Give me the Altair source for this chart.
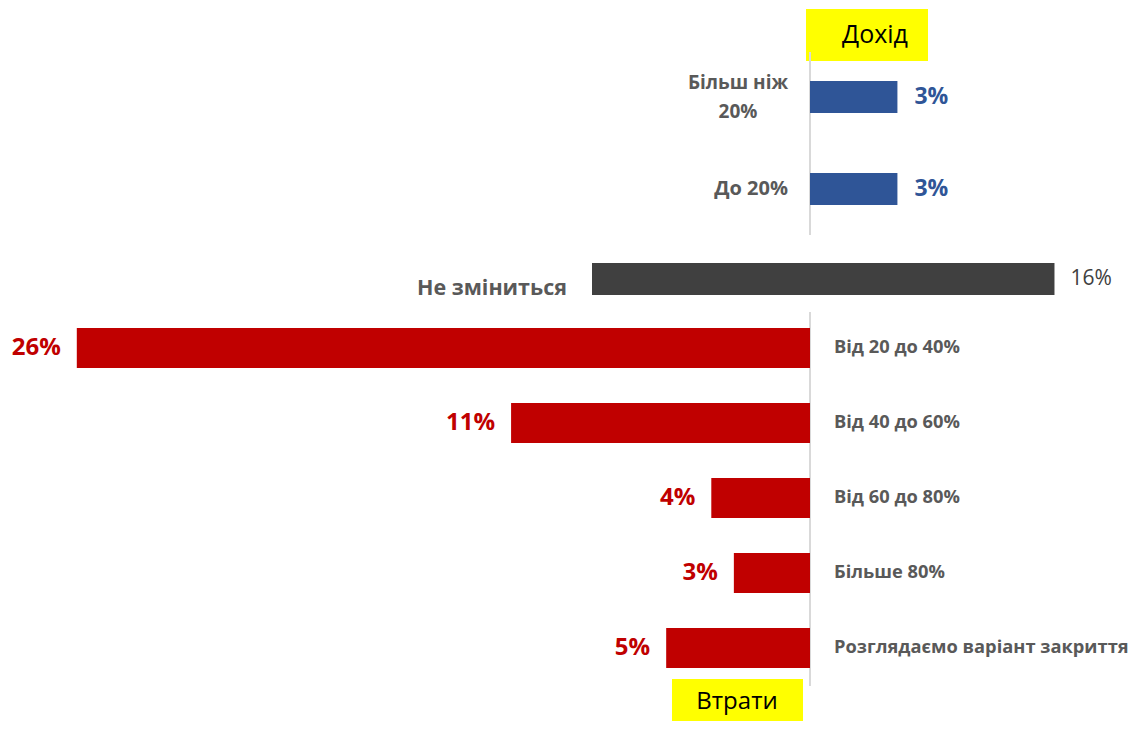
import altair as alt
import pandas as pd

FONT = "Open Sans"

income_cats = ["Більш ніж\n20%", "До 20%"]
income_vals = [3.1, 3.1]

nochange_cat = ["Не зміниться"]
nochange_vals = [16.4]

loss_cats = ["Від 20 до 40%", "Від 40 до 60%", "Від 60 до 80%", "Більше 80%",
             "Розглядаємо варіант закриття"]
loss_vals = [26.0, 10.6, 3.5, 2.7, 5.1]

W = 1110
PX = 28.2  # pixels per percent
ZERO = 802  # zero line in panel coords
xdom = [-ZERO / PX, (W - ZERO) / PX]

LABEL_GREY = "#595959"
RED = "#C00000"
BLUE = "#2F5597"
DARK = "#404040"
RULE = "#D9D9D9"
YELLOW = "#FFFF00"

one = alt.Data(values=[{"a": 1}])


def xs(dom):
    return alt.Scale(domain=dom, nice=False, zero=False)


# ---------------- Panel A: income ----------------
inc_df = pd.DataFrame({"cat": income_cats, "v": income_vals})
xA = alt.X("v:Q", scale=xs(xdom), axis=None)
yA = alt.Y("cat:N", scale=alt.Scale(domain=income_cats, range=[43, 227],
                                    paddingInner=0, paddingOuter=0), axis=None)
baseA = alt.Chart(inc_df).transform_calculate(
    zero="0", lbl="format(datum.v, '.0f') + '%'",
    multi="indexof(datum.cat, '\\n') >= 0")

boxA = alt.Chart(one).mark_rect(color=YELLOW).encode(
    x=alt.value(798), x2=alt.value(920), y=alt.value(1), y2=alt.value(53))
boxAtxt = alt.Chart(one).mark_text(text="Дохід", font=FONT, fontSize=25,
                                   color="#000000", baseline="middle").encode(
    x=alt.value(867), y=alt.value(27))
ruleA = alt.Chart(one).mark_rule(color=RULE, strokeWidth=2).encode(
    x=alt.X("z:Q", scale=xs(xdom), axis=None),
    y=alt.value(44), y2=alt.value(227)).transform_calculate(z="0")
barsA = baseA.mark_bar(height=32, color=BLUE).encode(x=xA, x2="zero:Q", y=yA)
valA = baseA.mark_text(align="left", baseline="middle", dx=17, font=FONT,
                       fontSize=23, fontWeight="bold", color=BLUE).encode(
    x=xA, y=yA, text="lbl:N")
catA1 = baseA.transform_filter("!datum.multi").mark_text(
    align="right", baseline="middle", dx=-22, font=FONT, fontSize=20,
    fontWeight="bold", color=LABEL_GREY).encode(
    x=alt.X("zero:Q", scale=xs(xdom), axis=None), y=yA, text="cat:N")
catA2 = baseA.transform_filter("datum.multi").mark_text(
    align="center", baseline="middle", dx=-72, dy=-14.5, font=FONT, fontSize=19,
    fontWeight="bold", color=LABEL_GREY, lineBreak="\n", lineHeight=29).encode(
    x=alt.X("zero:Q", scale=xs(xdom), axis=None), y=yA, text="cat:N")
panelA = alt.layer(boxA, boxAtxt, ruleA, barsA, valA, catA1, catA2).properties(
    width=W, height=232)

# ---------------- Panel B: no change ----------------
nc_df = pd.DataFrame({"cat": nochange_cat, "v": nochange_vals})
ZB = 584
xdomB = [-ZB / PX, (W - ZB) / PX]
xB = alt.X("v:Q", scale=xs(xdomB), axis=None)
yB = alt.Y("cat:N", scale=alt.Scale(domain=nochange_cat, range=[19, 59],
                                    paddingInner=0, paddingOuter=0), axis=None)
baseB = alt.Chart(nc_df).transform_calculate(
    zero="0", lbl="format(datum.v, '.0f') + '%'")
barsB = baseB.mark_bar(height=32, color=DARK).encode(x=xB, x2="zero:Q", y=yB)
valB = baseB.mark_text(align="left", baseline="middle", dx=16, font=FONT,
                       fontSize=21, color=DARK).encode(x=xB, y=yB, text="lbl:N")
catB = baseB.mark_text(align="right", baseline="middle", dx=-25, dy=10, font=FONT,
                       fontSize=21.5, fontWeight="bold", color=LABEL_GREY).encode(
    x=alt.X("zero:Q", scale=xs(xdomB), axis=None), y=yB, text="cat:N")
panelB = alt.layer(barsB, valB, catB).properties(width=W, height=65)

# ---------------- Panel C: losses ----------------
loss_df = pd.DataFrame({"cat": loss_cats, "v": loss_vals})
baseC = alt.Chart(loss_df).transform_calculate(
    zero="0", neg="-datum.v", lbl="format(datum.v, '.0f') + '%'")
xC = alt.X("neg:Q", scale=xs(xdom), axis=None)
yC = alt.Y("cat:N", scale=alt.Scale(domain=loss_cats, range=[5.5, 380.5],
                                    paddingInner=0, paddingOuter=0), axis=None)
ruleC = alt.Chart(one).mark_rule(color=RULE, strokeWidth=2).encode(
    x=alt.X("z:Q", scale=xs(xdom), axis=None),
    y=alt.value(7), y2=alt.value(381)).transform_calculate(z="0")
barsC = baseC.mark_bar(height=40, color=RED).encode(x=xC, x2="zero:Q", y=yC)
valC = baseC.mark_text(align="right", baseline="middle", dx=-16, font=FONT,
                       fontSize=24, fontWeight="bold", color=RED).encode(
    x=xC, y=yC, text="lbl:N")
catC = baseC.mark_text(align="left", baseline="middle", dx=24, font=FONT,
                       fontSize=18.3, fontWeight="bold", color=LABEL_GREY).encode(
    x=alt.X("zero:Q", scale=xs(xdom), axis=None), y=yC, text="cat:N")
boxC = alt.Chart(one).mark_rect(color=YELLOW).encode(
    x=alt.value(664), x2=alt.value(795), y=alt.value(374), y2=alt.value(416))
boxCtxt = alt.Chart(one).mark_text(text="Втрати", font=FONT, fontSize=24,
                                   color="#000000", baseline="middle").encode(
    x=alt.value(729), y=alt.value(397))
panelC = alt.layer(ruleC, barsC, valC, catC, boxC, boxCtxt).properties(
    width=W, height=416)

chart = alt.vconcat(panelA, panelB, panelC, spacing=0).properties(
    padding=0
).configure(background="white", view=alt.ViewConfig(stroke=None))

chart.save("out.html", embed_options={"renderer": "svg", "actions": False})
